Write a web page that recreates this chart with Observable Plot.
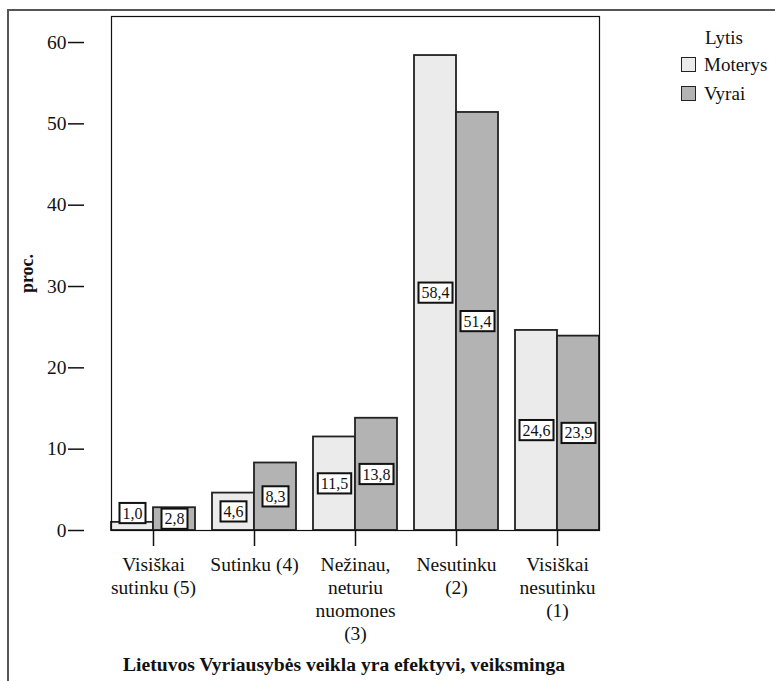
<!DOCTYPE html>
<html>
<head>
<meta charset="utf-8">
<script src="https://cdn.jsdelivr.net/npm/d3@7"></script>
<script src="https://cdn.jsdelivr.net/npm/@observablehq/plot@0.6"></script>
<style>
  html, body { margin: 0; padding: 0; background: #fff; overflow: hidden; }
  #wrap { position: relative; width: 775px; height: 681px; font-family: "Liberation Serif", "Times New Roman", Times, Tinos, "Nimbus Roman", "DejaVu Serif", serif; }
  #wrap svg, #wrap svg text { font-family: "Liberation Serif", "Times New Roman", Times, Tinos, "Nimbus Roman", "DejaVu Serif", serif !important; }
  #outer { position: absolute; left: 7px; top: 9px; right: -10px; bottom: -10px; border-left: 2px solid #555; border-top: 2px solid #555; pointer-events: none; }
  #legend { position: absolute; left: 681px; top: 26px; font-size: 19px; color: #111; }
  #legend .head { margin-left: 24px; height: 24px; line-height: 24px; }
  #legend .row { display: flex; align-items: center; height: 29px; }
  #legend .sw { width: 13px; height: 13px; border: 1.6px solid #222; margin-right: 8px; }
  #title { position: absolute; left: 0; width: 688px; top: 654px; text-align: center; font-weight: bold; font-size: 19.6px; line-height: 22px; color: #111; }
</style>
</head>
<body>
<div id="wrap"></div>
<script>
// ---- data ----
const categories = ["Visiškai sutinku (5)", "Sutinku (4)", "Nežinau, neturiu nuomones (3)", "Nesutinku (2)", "Visiškai nesutinku (1)"];
const categoryTickLabels = ["Visiškai\nsutinku (5)", "Sutinku (4)", "Nežinau,\nneturiu\nnuomones\n(3)", "Nesutinku\n(2)", "Visiškai\nnesutinku\n(1)"];
const genders = ["Moterys", "Vyrai"];
const moterys = [1.0, 4.6, 11.5, 58.4, 24.6];
const vyrai = [2.8, 8.3, 13.8, 51.4, 23.9];
const yTicks = [0, 10, 20, 30, 40, 50, 60];
const genderColors = ["#ebebeb", "#b3b3b3"];
const yLabel = "proc.";
const legendTitle = "Lytis";
const chartTitle = "Lietuvos Vyriausybės veikla yra efektyvi, veiksminga";

const rows = categories.flatMap((c, i) => [
  {category: c, gender: genders[0], value: moterys[i]},
  {category: c, gender: genders[1], value: vyrai[i]}
]);
const fmt = v => v.toFixed(1).replace(".", ",");
const tickLabel = d => categoryTickLabels[categories.indexOf(d)];
// label sits mid-bar; when the bar is too short for its box, the box rests on top of the bar
const minHalf = 1.35;
const labelY = d => d.value / 2 >= minHalf ? d.value / 2 : d.value + 1.1;

const W = 775, H = 681, mL = 83, mR = 148, mT = 16, mB = 151;
const fxOptions = {domain: categories, paddingInner: 0.172, paddingOuter: 0.266};
// offset of the first facet from the frame's left edge (so the y axis sits on the frame)
const fxProbe = Plot.scale({fx: {...fxOptions, range: [mL, W - mR]}});
const firstFacetOffset = fxProbe.apply(categories[0]) - mL;

const chart = Plot.plot({
  width: W,
  height: H,
  marginLeft: mL,
  marginRight: mR,
  marginTop: mT,
  marginBottom: mB,
  style: {fontSize: "19.5px", background: "transparent", color: "#111", overflow: "visible"},
  fx: {...fxOptions, label: null},
  x: {domain: genders, padding: 0, axis: null},
  y: {domain: [0, 63.2]},
  color: {domain: genders, range: genderColors},
  marks: [
    Plot.barY(rows, {fx: "category", x: "gender", y: "value", fill: "gender", stroke: "#222", strokeWidth: 1.8}),
    Plot.text(rows, {fx: "category", x: "gender", y: labelY, text: d => fmt(d.value), fontSize: 16, fill: "#111"}),
    Plot.frame({facet: "super", stroke: "#111", strokeWidth: 1.2}),
    Plot.axisY(yTicks, {tickSize: 16, tickPadding: 2, strokeWidth: 1.5, label: null, fontSize: 19.5, dx: -firstFacetOffset}),
    Plot.axisY({ticks: [], tickSize: 0, label: yLabel, labelAnchor: "center", labelArrow: "none", labelOffset: 91, fontWeight: "bold", fontSize: 18, dx: -firstFacetOffset}),
    Plot.axisFx({anchor: "bottom", tickSize: 16, tickPadding: 8, strokeWidth: 1.5, label: null, tickFormat: tickLabel, lineHeight: 1.18, fontSize: 19.5})
  ]
});

const wrap = document.getElementById("wrap");
wrap.appendChild(chart);

// boxes behind the value labels (the text mark's group is labelled "text" by Plot)
const svgNS = "http://www.w3.org/2000/svg";
chart.querySelectorAll('g[aria-label="text"] text').forEach(t => {
  const b = t.getBBox();
  const r = document.createElementNS(svgNS, "rect");
  const px = 3, py = 1.6;
  r.setAttribute("x", b.x - px);
  r.setAttribute("y", b.y - py);
  r.setAttribute("width", b.width + 2 * px);
  r.setAttribute("height", b.height + 2 * py);
  r.setAttribute("fill", "#fff");
  r.setAttribute("stroke", "#111");
  r.setAttribute("stroke-width", 2);
  if (t.getAttribute("transform")) r.setAttribute("transform", t.getAttribute("transform"));
  t.parentNode.insertBefore(r, t);
});

// outer frame
const outer = document.createElement("div");
outer.id = "outer";
wrap.appendChild(outer);

// legend
const legend = document.createElement("div");
legend.id = "legend";
const head = document.createElement("div");
head.className = "head";
head.textContent = legendTitle;
legend.appendChild(head);
genders.forEach((g, i) => {
  const row = document.createElement("div");
  row.className = "row";
  const sw = document.createElement("div");
  sw.className = "sw";
  sw.style.background = genderColors[i];
  const lab = document.createElement("span");
  lab.textContent = g;
  row.appendChild(sw);
  row.appendChild(lab);
  legend.appendChild(row);
});
wrap.appendChild(legend);

// title
const title = document.createElement("div");
title.id = "title";
title.textContent = chartTitle;
wrap.appendChild(title);
</script>
</body>
</html>
